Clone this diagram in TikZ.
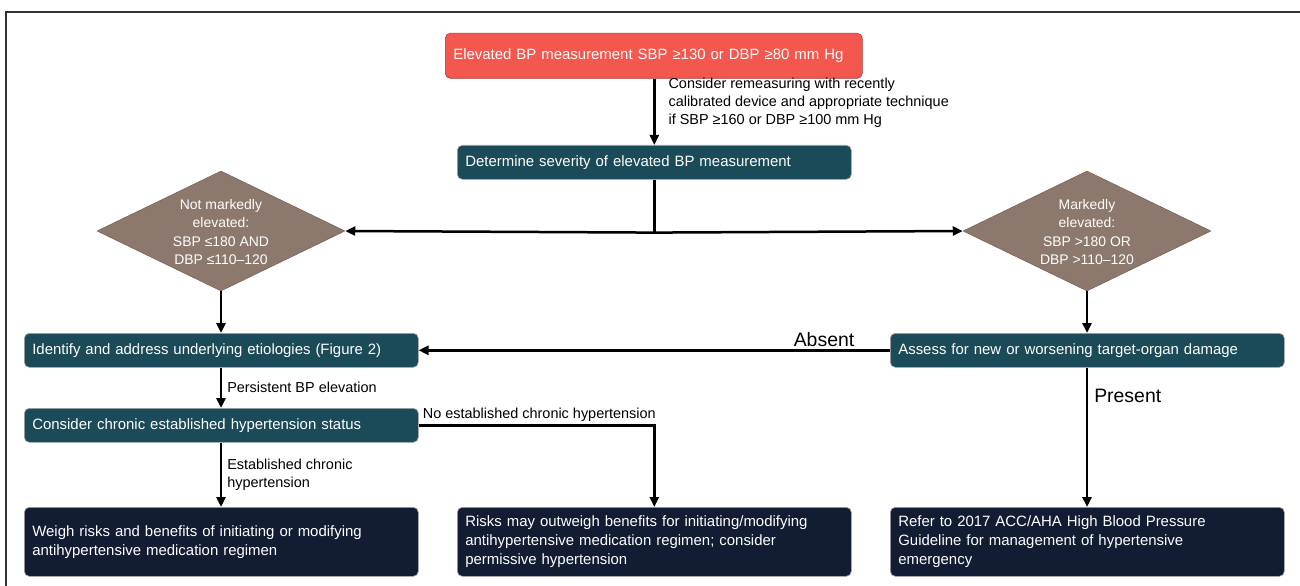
\documentclass[tikz,border=0pt]{standalone}
\usepackage{fontspec}
\setmainfont{Liberation Sans}
\usetikzlibrary{shapes.geometric,arrows.meta}
\definecolor{redbox}{HTML}{F4574D}
\definecolor{tealbox}{HTML}{1B4A58}
\definecolor{navybox}{HTML}{121D33}
\definecolor{diam}{HTML}{8C786C}
\definecolor{framec}{HTML}{333333}
\tikzset{
  box/.style={rectangle, rounded corners=5bp, draw=gray!70, line width=0.6bp, anchor=north west,
    align=left, inner xsep=8bp, inner ysep=0bp, text=white,
    font=\fontsize{15}{19}\selectfont},
  redstyle/.style={box, fill=redbox, draw=redbox!70!black},
  tealstyle/.style={box, fill=tealbox},
  navystyle/.style={box, fill=navybox},
  diamstyle/.style={diamond, fill=diam, draw=diam!80!black, line width=0.5bp, inner sep=0pt,
    minimum width=248bp, minimum height=120bp},
  dtext/.style={align=center, text=white, font=\fontsize{14}{18.5}\selectfont},
  arr/.style={line width=2.5bp, -{Triangle[length=10bp,width=9bp]}},
  plain/.style={line width=2.5bp},
  lbl/.style={font=\fontsize{14.5}{18}\selectfont, align=left, inner sep=2bp},
  biglbl/.style={font=\fontsize{19.5}{22}\selectfont, inner sep=2bp}
}
\begin{document}
\begin{tikzpicture}[x=1bp,y=-1bp]
\useasboundingbox (0,0) rectangle (1300,586);
\draw[framec, line width=2bp] (6,590) -- (6,12) -- (1304,12);

% boxes
\node[redstyle, text width=401bp, minimum height=45bp] (elev) at (445,33) {Elevated BP measurement SBP ≥130 or DBP ≥80 mm Hg};
\node[tealstyle, text width=378bp, minimum height=34bp] (det) at (457,145) {Determine severity of elevated BP measurement};
\node[tealstyle, text width=378bp, minimum height=34bp] (ident) at (24,333) {Identify and address underlying etiologies (Figure 2)};
\node[tealstyle, text width=378bp, minimum height=34bp] (assess) at (890,333) {Assess for new or worsening target-organ damage};
\node[tealstyle, text width=378bp, minimum height=34bp] (cons) at (24,408) {Consider chronic established hypertension status};
\node[navystyle, text width=378bp, minimum height=69bp] (weigh) at (24,507) {Weigh risks and benefits of initiating or modifying\\antihypertensive medication regimen};
\node[navystyle, text width=378bp, minimum height=69bp] (risks) at (457,507) {Risks may outweigh benefits for initiating/modifying\\antihypertensive medication regimen; consider\\permissive hypertension};
\node[navystyle, text width=378bp, minimum height=69bp] (refer) at (890,507) {Refer to 2017 ACC/AHA High Blood Pressure\\Guideline for management of hypertensive\\emergency};

% diamonds
\node[diamstyle] (d1) at (221,231) {};
\node[dtext] (d1t) at (221,232) {Not markedly\\elevated:\\SBP ≤180 AND\\DBP ≤110–120};
\node[diamstyle] (d2) at (1087,231) {};
\node[dtext] (d2t) at (1087,232) {Markedly\\elevated:\\SBP >180 OR\\DBP >110–120};

% connectors
\draw[arr] (elev.south -| det.north) -- node[lbl, pos=0.36, anchor=west, xshift=11bp]
  {Consider remeasuring with recently\\calibrated device and appropriate technique\\if SBP ≥160 or DBP ≥100 mm Hg} (det.north);
\draw[plain] (det.south) -- ++(0,53) coordinate (split);
\draw[arr] ([xshift=1.25bp]split) -- (d1.east);
\draw[arr] ([xshift=-1.25bp]split) -- (d2.west);
\draw[arr] (d1.south) -- (d1.south |- ident.north);
\draw[arr] (d2.south) -- (d2.south |- assess.north);
\draw[arr] (assess.west) -- node[biglbl, pos=0.14, anchor=south, yshift=0bp] {Absent} (ident.east);
\draw[arr] (ident.south -| d1.south) -- node[lbl, anchor=west, xshift=3bp] {Persistent BP elevation} (cons.north -| d1.south);
\draw[arr] (cons.south -| d1.south) -- node[lbl, anchor=west, xshift=3bp] {Established chronic\\hypertension} (weigh.north -| d1.south);
\draw[arr] (cons.east) -- node[lbl, pos=0, anchor=south west, xshift=1bp, yshift=1bp] {No established chronic hypertension} (cons.east -| risks.north) -- (risks.north);
\draw[arr] (assess.south -| d2.south) -- node[biglbl, pos=0.2, anchor=west, xshift=4bp] {Present} (refer.north -| d2.south);
\end{tikzpicture}
\end{document}
